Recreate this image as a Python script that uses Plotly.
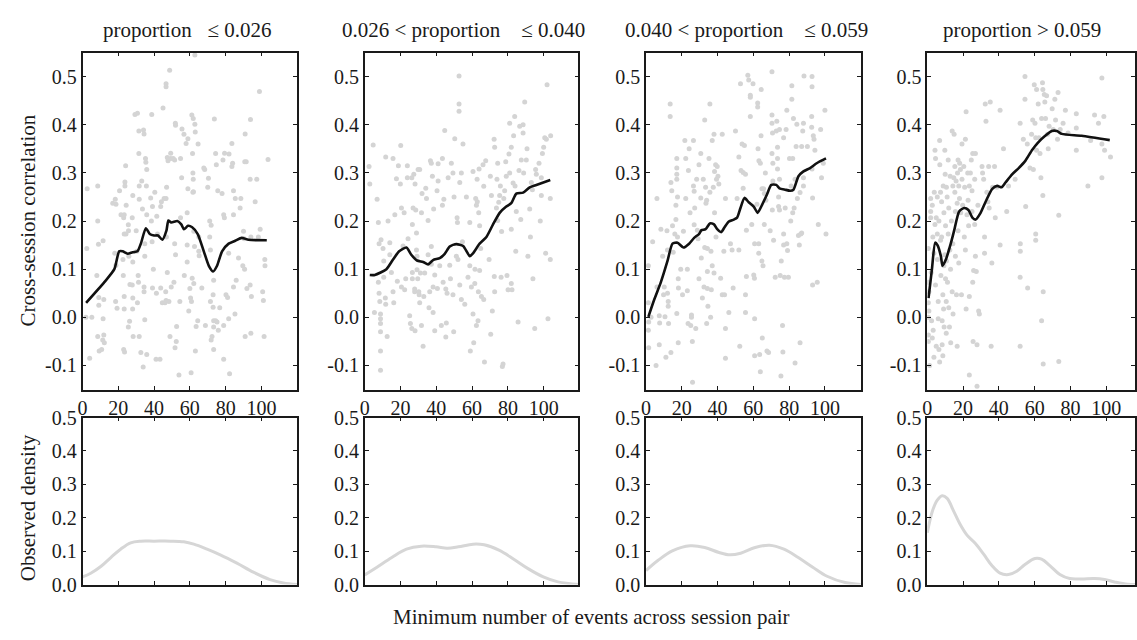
import plotly.graph_objects as go

W, H = 1137, 640

# ---- panel headings -------------------------------------------------------
panel_titles = [
    "proportion\u00a0\u00a0 \u2264 0.026",
    "0.026 < proportion\u00a0\u00a0\u00a0 \u2264 0.040",
    "0.040 < proportion\u00a0\u00a0\u00a0 \u2264 0.059",
    "proportion > 0.059",
]

# ---- scatter: (min events, cross-session correlation) per bin -------------
pts_bin1 = [
    (2.6,0.267),(2.4,0.143),(1.9,0.0),(4.0,-0.085),(5.2,0.0),(8.5,0.273),(8.5,0.2),(8.9,0.152),(8.0,0.087),(9.1,0.041),(9.1,0.025),(8.5,-0.04),(9.3,-0.07),(10.7,-0.067),(11.3,-0.047),
    (11.5,0.159),(11.9,0.037),(11.5,-0.003),(12.2,-0.053),(11.9,-0.037),(16.9,0.237),(18.3,0.245),(18.7,0.235),(18.0,0.133),(18.7,0.108),(18.5,0.033),(19.3,0.019),
    (20.7,0.263),(21.5,0.213),(23.0,0.207),(23.3,0.213),(23.7,0.281),(23.7,0.273),(24.1,0.315),(24.4,0.233),(23.3,0.173),(24.3,0.173),(22.6,0.12),(22.8,0.087),(23.3,0.043),(23.3,0.017),(23.0,-0.067),(23.5,-0.072),(25.6,0.192),(25.7,0.18),(25.9,0.127),(26.5,0.068),(26.3,-0.008),(25.6,-0.02),(28.1,0.253),(27.8,0.207),(28.1,0.115),(27.8,0.067),(28.1,0.04),(28.0,0.017),(28.3,-0.04),(29.3,0.421),(30.7,0.424),
    (30.0,0.18),(30.4,0.137),(31.5,0.387),(31.5,0.34),(31.7,0.273),(31.7,0.245),(33.1,0.283),(33.5,0.225),(31.1,0.087),(31.3,0.073),(30.7,0.03),(31.7,-0.04),(32.6,-0.073),(33.9,-0.103),(34.4,0.381),(34.1,0.389),(35.2,0.33),(35.4,0.322),(35.9,0.307),(35.7,0.273),(35.9,0.213),(34.8,0.153),(34.8,0.127),(34.4,0.063),(34.4,0.053),(34.8,-0.005),(35.9,-0.077),(38.1,0.248),(38.7,0.421),(39.1,0.23),(38.5,0.2),(38.9,0.157),(39.6,0.1),(39.1,0.061),
    (40.4,0.26),(41.5,0.21),(41.9,0.173),(41.3,0.05),(41.1,-0.087),(43.3,-0.087),(43.7,0.23),(44.1,0.24),(44.6,0.03),(43.7,0.061),(45.0,0.435),(45.6,0.247),(46.1,0.03),(46.5,0.053),(47.4,0.332),(47.8,0.325),(47.0,0.27),(46.7,0.247),(46.9,0.167),(47.4,0.093),(46.7,0.035),(48.3,0.033),(48.7,0.513),(46.7,0.485),(46.7,0.479),(49.3,0.341),(49.3,0.33),(49.6,0.063),(48.9,-0.04),
    (50.7,0.33),(51.5,0.327),(51.9,0.403),(52.0,0.399),(51.5,0.153),(51.1,0.073),(52.0,0.13),(52.6,-0.019),(52.4,-0.05),(51.7,-0.063),(53.9,-0.12),(54.8,0.33),(55.6,0.391),(55.4,0.29),(54.8,0.207),(54.4,0.033),(56.7,0.38),(56.9,0.087),(57.9,0.361),(58.9,0.371),(58.9,0.267),(58.5,0.217),(58.5,0.15),(58.5,0.115),(59.4,0.013),(60.0,0.06),
    (60.7,-0.115),(60.4,0.04),(60.9,0.033),(61.1,0.42),(61.9,0.413),(61.5,0.34),(61.7,0.3),(61.9,0.287),(62.0,0.261),(61.7,0.26),(62.2,0.179),(62.6,0.147),(61.3,0.081),(62.2,0.07),(62.8,0.545),(62.8,0.401),(63.0,0.385),(63.1,-0.07),(63.5,-0.019),(64.6,0.36),(65.0,0.167),(65.0,0.137),(65.2,0.128),(64.4,-0.007),(66.7,0.061),(67.8,0.31),(68.3,0.307),(68.7,-0.017),(70.4,0.289),(70.0,0.27),(71.1,0.2),(71.9,0.191),
    (71.1,0.167),(71.5,0.14),(72.4,-0.04),(71.9,-0.047),(71.5,0.033),(73.0,0.047),(73.0,0.021),(73.3,-0.007),(73.7,0.412),(73.3,0.077),(73.3,-0.067),(74.4,0.34),(74.8,0.317),(75.6,0.263),(73.3,-0.02),(75.2,-0.01),(75.9,-0.027),(74.4,-0.007),(76.7,0.02),(78.0,0.257),(78.5,0.327),(78.9,0.213),(79.3,0.207),(79.4,0.341),(78.9,-0.017),(78.9,-0.087),(80.2,0.047),
    (81.1,0.041),(81.7,0.133),(81.7,-0.003),(81.9,0.339),(83.5,0.361),(83.5,0.313),(83.9,0.32),(82.2,-0.117),(84.4,0.263),(84.4,0.213),(85.4,0.247),(84.4,0.063),(85.9,0.077),(85.2,0.007),(87.2,0.123),(88.1,0.227),(88.5,0.247),
    (90.0,0.179),(90.4,0.163),(90.7,0.323),(91.5,0.323),(90.9,0.381),(89.6,0.107),(90.6,0.1),(91.9,0.06),(90.9,-0.04),(93.9,0.411),(93.7,0.287),(94.1,0.167),(93.7,0.067),(94.4,0.043),(94.1,-0.033),(96.5,0.24),(97.4,0.287),(98.9,0.469),(98.3,0.167),(99.3,0.183),(100.7,0.053),(101.1,0.035),(101.5,-0.04),(101.9,0.12),(102.0,0.107),(103.7,0.328),
]

pts_bin2 = [
    (2.4,0.313),(2.8,0.277),(4.7,0.358),(5.4,0.01),(6.9,0.245),(7.6,0.197),(7.6,0.073),(8.0,0.05),(8.4,0.033),(8.8,0.007),(8.8,-0.003),(8.8,-0.013),(8.8,-0.03),(8.8,-0.07),(8.8,-0.11),(8.0,0.153),(9.1,0.161),
    (10.2,0.143),(10.6,0.117),(10.6,0.083),(11.5,0.04),(11.7,0.027),(12.5,-0.04),(11.7,0.333),(13.0,0.2),(14.0,0.155),(14.0,0.13),(14.9,0.093),(15.8,0.33),(15.8,0.053),(16.2,0.03),(16.8,0.213),(17.7,0.288),(18.2,0.075),(18.8,0.315),
    (20.1,0.357),(19.9,0.277),(20.5,0.227),(20.5,0.063),(21.4,0.148),(22.0,0.217),(22.3,0.057),(22.9,0.08),(23.8,0.315),(23.8,0.29),(24.2,0.163),(25.1,0.003),(25.5,-0.013),(26.3,0.29),(26.3,-0.023),(26.6,0.093),(26.6,0.08),(26.6,0.193),(27.0,0.227),(27.4,0.297),(27.9,0.059),(27.9,0.053),(28.1,-0.028),(28.1,0.277),(28.5,0.223),(28.9,0.175),(28.9,0.14),(29.2,0.127),(29.2,0.099),(29.6,0.08),(29.8,0.307),(30.2,0.053),
    (30.4,0.047),(30.7,0.307),(31.1,0.092),(30.7,0.03),(31.7,0.217),(31.7,-0.017),(32.0,0.257),(32.6,-0.06),(33.0,0.043),(33.5,0.092),(34.1,0.268),(34.5,0.247),(35.4,0.201),(35.4,0.13),(35.9,0.02),(36.3,0.053),(36.7,0.325),(37.2,0.11),(37.2,0.32),(37.2,0.147),(37.8,0.293),(38.2,0.063),(38.2,0.01),(38.5,0.225),(39.1,-0.028),(39.1,0.088),
    (40.4,0.263),(40.6,0.06),(41.0,0.283),(41.0,0.319),(41.9,0.107),(42.8,-0.017),(43.4,0.33),(43.4,0.233),(43.8,0.073),(44.2,0.245),(44.7,0.388),(45.3,0.059),(45.6,-0.012),(46.0,0.05),(45.3,-0.041),(46.6,0.29),(47.5,0.108),(47.9,0.08),(48.4,0.32),(49.3,0.047),(49.3,0.3),(49.7,-0.03),(49.9,0.25),(50.3,0.371),
    (51.2,0.127),(51.6,0.207),(51.8,0.197),(52.1,0.12),(52.7,0.501),(52.7,0.443),(52.7,0.428),(53.1,0.28),(53.1,0.067),(54.0,0.3),(54.0,0.037),(54.9,0.36),(54.6,0.157),(55.9,0.027),(56.8,0.25),(57.7,0.083),(58.7,0.197),(58.7,0.107),(59.0,-0.07),(59.6,0.063),
    (60.5,0.303),(60.5,0.007),(60.9,-0.053),(61.5,0.07),(61.6,0.1),(62.0,0.247),(62.4,0.233),(62.4,-0.017),(62.8,0.287),(62.9,0.24),(63.3,-0.007),(63.5,0.053),(63.9,0.308),(63.7,0.217),(64.2,0.19),(64.2,0.097),(64.8,0.143),(65.2,0.043),(66.1,0.317),(66.5,0.272),(66.5,0.037),(66.9,-0.093),(67.6,0.325),
    (69.5,0.12),(70.2,0.293),(70.4,-0.035),(70.8,0.253),(71.3,0.013),(72.3,0.37),(72.6,0.353),(72.4,0.085),(72.6,0.053),(73.6,0.227),(73.9,0.287),(74.3,0.32),(74.3,0.201),(74.9,0.239),(75.4,0.253),(75.8,0.273),(76.2,0.083),(76.5,0.178),(76.9,-0.102),(77.3,-0.097),(77.7,0.247),(78.2,0.263),(78.8,0.323),(79.1,0.293),(79.5,0.087),(80.1,0.057),
    (80.6,0.339),(81.0,0.3),(81.0,0.403),(81.9,0.353),(81.9,0.183),(81.9,0.07),(82.3,0.057),(82.9,0.279),(83.2,0.377),(83.8,0.417),(84.0,0.273),(84.4,0.137),(84.7,0.22),(85.7,-0.01),(86.2,0.305),(86.6,0.397),(87.2,0.203),(87.5,0.327),(88.5,0.4),(88.5,0.383),(88.8,0.3),(89.4,0.447),
    (90.3,0.327),(90.7,0.35),(91.2,0.127),(92.2,0.225),(92.6,0.167),(93.1,0.28),(93.7,0.265),(94.0,0.08),(95.0,-0.023),(95.5,0.307),(95.9,0.297),(97.4,0.32),(98.1,0.2),(98.7,0.29),(98.7,0.253),(99.3,0.34),(100.0,0.353),(100.6,0.373),(101.5,0.37),(101.1,0.133),(101.9,0.483),(102.4,-0.003),(103.7,0.247),(103.7,0.12),(103.9,0.377),
]

pts_bin3 = [
    (1.3,0.107),(1.3,0.03),(1.3,-0.027),(1.5,-0.01),(1.5,-0.063),(2.8,0.0),(3.7,0.157),(5.6,-0.1),(6.1,0.247),(6.1,0.063),(7.4,0.003),(7.6,-0.012),(7.4,-0.057),(8.3,0.183),(9.3,0.127),(10.2,0.063),(9.8,0.047),(10.6,0.001),
    (11.1,-0.083),(11.7,0.18),(12.0,0.14),(12.0,0.05),(12.4,0.033),(12.4,0.023),(12.6,-0.013),(13.5,0.443),(13.5,0.417),(13.9,0.28),(14.4,0.263),(14.8,0.19),(15.2,0.135),(13.9,-0.073),(16.1,0.173),(16.7,0.233),(16.7,0.203),(17.2,0.33),(17.2,0.31),(17.2,0.297),(17.2,0.287),(17.6,0.25),(17.6,0.167),(18.0,0.08),(18.1,0.061),(17.2,0.008),(18.0,-0.053),
    (19.4,0.1),(20.4,0.047),(20.9,0.179),(21.7,0.367),(22.2,0.33),(22.2,0.247),(23.1,0.1),(23.1,0.055),(23.5,-0.013),(23.7,0.305),(24.1,0.35),(24.6,0.217),(25.0,-0.017),(25.4,0.005),(25.4,0.0),(25.9,-0.05),(26.5,0.367),(26.5,0.273),(26.9,0.262),(26.9,0.192),(27.2,0.227),(27.8,-0.023),(28.3,0.287),(28.7,0.181),(29.1,0.163),(29.6,0.317),(29.6,0.08),(26.0,-0.135),
    (30.6,0.34),(30.6,0.248),(30.9,0.123),(31.5,0.04),(32.0,0.287),(32.4,0.063),(32.8,0.145),(32.8,0.41),(33.3,0.27),(33.5,0.237),(33.9,0.243),(33.9,-0.013),(34.3,0.095),(34.3,0.143),(34.3,0.06),(34.6,0.023),(35.2,0.33),(35.7,0.26),(35.7,0.443),(36.1,0.0),(36.3,0.137),(36.5,0.057),(37.0,0.367),(37.0,0.107),(37.6,0.27),(38.0,0.38),(38.0,0.092),(38.3,0.303),(38.3,0.217),
    (38.9,0.317),(39.1,0.167),(39.4,0.287),(39.8,0.313),(40.2,0.293),(40.7,0.277),(41.7,0.081),(42.6,0.38),(42.6,0.047),(43.5,0.137),(43.9,0.047),(44.4,0.247),(44.4,-0.085),(44.4,-0.023),(46.3,0.01),(47.2,0.153),(48.1,0.14),(48.7,0.061),(50.0,0.387),
    (50.9,0.247),(51.9,0.333),(51.9,0.14),(52.4,-0.06),(52.8,0.485),(53.1,0.305),(53.7,0.36),(54.3,0.301),(54.3,0.268),(55.0,0.357),(55.6,0.047),(55.6,0.01),(55.6,0.297),(56.1,0.181),(56.1,0.085),(56.9,0.503),(57.4,0.493),(58.3,0.461),(58.3,0.457),(58.3,0.417),(59.1,0.193),(59.8,0.485),(60.2,0.088),(60.6,0.081),(60.7,-0.003),(60.7,0.153),(60.7,-0.08),
    (62.0,0.235),(62.4,0.445),(62.4,0.437),(62.6,0.35),(63.0,0.153),(63.0,0.133),(63.1,0.325),(63.5,-0.077),(63.9,-0.113),(63.9,0.32),(64.3,0.377),(64.4,0.473),(64.8,0.267),(64.8,0.117),(65.0,-0.043),(65.4,0.107),(65.7,0.267),(66.1,0.257),(66.1,0.193),(66.7,0.3),(67.0,0.243),(67.6,-0.07),(68.5,-0.073),(69.4,0.18),
    (70.4,0.51),(70.4,0.42),(70.4,0.403),(70.4,0.34),(70.7,0.383),(70.9,0.32),(70.9,0.283),(70.6,0.223),(71.3,0.16),(72.2,0.083),(72.8,0.387),(73.1,0.407),(73.5,0.353),(73.5,0.33),(73.5,0.308),(74.1,0.25),(74.1,0.23),(74.6,0.39),(74.6,0.223),(74.6,0.287),(75.0,0.087),(75.6,0.117),(75.4,-0.122),(76.3,-0.017),(76.5,-0.072),(76.9,0.373),(76.9,0.173),(76.9,0.15),(77.4,0.083),(77.8,0.227),(78.3,0.39),(78.7,0.43),(78.7,0.153),(79.1,0.139),
    (79.6,0.083),(80.2,0.33),(80.9,0.2),(81.1,0.273),(81.5,0.481),(81.5,0.453),(82.0,0.33),(82.0,0.217),(82.4,0.413),(82.8,0.227),(83.3,0.287),(83.3,-0.095),(83.9,0.355),(84.3,0.401),(84.6,0.247),(85.2,0.17),(85.7,0.15),(86.1,0.259),(86.1,-0.053),(86.5,0.173),(87.0,0.355),(87.0,0.175),(87.6,0.387),(88.0,0.403),(88.0,0.29),(88.0,0.273),
    (88.3,0.501),(90.2,0.355),(92.6,0.417),(92.6,0.395),(92.8,0.308),(93.1,0.248),(92.8,0.5),(92.8,0.479),(93.1,0.067),(93.5,0.377),(93.9,0.37),(94.4,0.347),(95.7,0.073),(96.3,0.193),(97.6,0.39),(98.1,0.29),(99.1,0.32),(100.0,0.43),(100.6,0.173),
]

pts_bin4 = [
    (0.6,0.143),(0.6,0.0),(0.6,-0.037),(0.6,-0.05),(0.6,0.073),(0.6,0.03),(0.9,0.053),(0.9,0.013),(1.3,-0.1),(1.9,0.247),(1.9,0.22),(1.9,0.207),(2.2,0.093),(2.4,-0.007),(2.8,0.233),(2.8,-0.043),(3.1,0.167),(3.3,-0.027),(3.7,0.133),(3.7,-0.083),(3.9,0.26),(4.3,0.193),(4.3,0.347),(4.6,0.33),(4.6,0.067),(5.0,-0.06),(5.0,0.207),
    (5.6,0.25),(5.6,0.173),(5.7,0.12),(6.1,0.033),(6.1,-0.003),(6.5,0.2),(6.5,-0.067),(6.9,-0.093),(6.9,0.367),(7.0,0.317),(7.4,0.16),(7.4,0.26),(7.6,0.087),(8.0,0.167),(8.0,0.24),(8.3,-0.057),(8.3,-0.007),(8.7,0.047),(8.7,-0.08),(8.9,0.273),(9.1,0.017),(9.3,0.217),(9.3,0.107),(9.4,-0.02),(9.8,0.347),(9.8,0.13),(10.0,0.297),
    (10.2,0.19),(10.2,0.08),(10.6,0.033),(10.6,-0.033),(10.7,0.27),(10.7,0.117),(11.1,0.25),(11.3,0.073),(11.7,0.327),(11.7,0.173),(12.0,0.02),(12.0,0.227),(12.4,-0.02),(12.6,0.14),(12.8,0.293),(13.0,0.1),(13.1,-0.053),(13.5,0.2),(13.9,0.053),(13.9,0.387),(14.3,0.273),(14.3,0.153),(14.4,0.007),
    (14.8,0.29),(15.0,0.38),(15.4,0.26),(15.4,0.313),(15.7,0.22),(15.7,0.127),(16.1,0.283),(16.3,0.047),(16.7,0.237),(16.7,-0.06),(16.9,0.3),(17.2,0.327),(17.2,0.18),(17.6,0.273),(17.6,0.113),(18.0,0.247),(18.1,0.32),(18.5,0.307),(18.7,0.217),(19.1,0.047),(19.4,0.36),(19.4,0.287),(19.8,0.233),
    (20.4,0.313),(20.7,0.167),(20.9,0.27),(21.3,0.37),(21.3,0.14),(21.7,0.427),(21.7,0.017),(22.2,0.213),(22.6,0.3),(22.8,0.243),(23.1,0.19),(23.5,0.273),(23.5,0.043),(24.1,0.3),(24.6,0.327),(25.0,0.263),(25.4,0.34),(25.4,0.073),(25.6,-0.05),(25.9,0.097),(26.5,0.287),(26.5,0.193),(26.9,0.34),(27.4,0.095),(27.8,-0.057),(28.3,0.233),(28.7,0.013),(29.1,0.007),(23.5,-0.12),(27.8,-0.143),(26.9,0.127),(25.0,0.22),
    (30.6,0.313),(30.9,0.3),(31.5,0.287),(32.0,0.167),(32.0,0.133),(32.4,0.443),(32.8,0.407),(33.3,0.26),(33.9,0.24),(34.3,0.313),(34.6,0.227),(35.2,0.447),(35.7,-0.06),(36.1,0.113),(36.5,0.27),(37.6,0.313),(38.0,0.207),(38.9,0.27),
    (40.7,0.43),(40.7,0.15),(42.6,0.35),(44.4,0.22),(45.4,0.273),(49.1,0.287),(51.9,0.403),(51.9,0.083),(51.9,-0.06),(52.0,0.153),(52.0,0.137),(53.7,0.37),(54.6,0.5),(54.6,0.453),(55.0,0.23),(55.9,0.36),(56.1,0.061),
    (57.4,0.31),(58.3,0.38),(58.9,0.41),(59.3,0.307),(59.8,0.483),(60.2,0.403),(60.6,0.373),(60.6,0.173),(60.6,0.16),(61.1,0.473),(61.1,0.347),(62.0,0.443),(62.4,0.373),(63.0,0.34),(63.5,0.29),(63.9,0.413),(64.4,0.487),(64.6,0.473),(64.6,0.253),(64.8,0.053),(63.9,-0.007),(64.8,-0.097),(65.4,0.463),(65.7,0.447),(66.1,0.413),(66.7,0.46),(67.2,0.38),(67.6,0.35),(68.1,0.397),
    (69.8,0.433),(70.4,0.39),(71.3,0.453),(71.7,0.41),(72.8,0.37),(73.1,0.467),(73.5,0.212),(73.5,-0.092),(74.3,0.39),(75.9,0.403),(77.2,0.43),(78.7,0.383),(83.3,0.423),(83.3,0.393),(83.3,0.347),(89.8,0.273),(91.3,0.367),(93.5,0.42),(95.7,0.403),(97.6,0.497),(97.6,0.36),(97.6,0.29),(98.7,0.417),(99.1,0.347),(102.4,0.333),
]

# ---- smoothed trend per bin ----------------------------------------------
trend_x1 = [2, 12.2, 17.8, 20.5, 22.4, 25.2, 28, 30.7, 32.6, 35.4, 37.6, 40, 42.2, 44.6, 46.9, 48, 49.6, 53, 55.2, 56.7, 59, 61.3, 64.4, 67.8, 70.6, 73, 75.2, 78, 81.7, 85.4, 89, 92.8, 103]
trend_y1 = [0.03, 0.073, 0.1, 0.137, 0.137, 0.132, 0.135, 0.137, 0.153, 0.185, 0.173, 0.17, 0.17, 0.161, 0.18, 0.201, 0.197, 0.2, 0.193, 0.183, 0.19, 0.187, 0.173, 0.137, 0.107, 0.095, 0.107, 0.137, 0.153, 0.159, 0.165, 0.161, 0.16]

trend_x2 = [2.8, 5.6, 12.1, 15.8, 19.2, 23.3, 26, 29.2, 32.6, 35.4, 38.2, 41.9, 44.7, 47.5, 51.2, 55, 58.7, 60.5, 64.2, 68, 71.7, 75.4, 79.1, 81.9, 84.7, 88.5, 92.2, 95.9, 103.7]
trend_y2 = [0.088, 0.088, 0.1, 0.12, 0.137, 0.145, 0.13, 0.118, 0.115, 0.11, 0.119, 0.123, 0.132, 0.147, 0.152, 0.148, 0.127, 0.133, 0.153, 0.167, 0.193, 0.217, 0.23, 0.237, 0.257, 0.259, 0.27, 0.275, 0.285]

trend_x3 = [1.3, 4.6, 8.3, 12, 14.8, 17.6, 20.9, 24.1, 26.9, 29.6, 31, 33.3, 35.7, 38, 39.8, 42, 43.9, 46.3, 49.1, 50.9, 52.8, 55, 57.4, 60.2, 62.4, 64.8, 67.6, 70, 72.8, 74.6, 77.8, 80.6, 82.4, 85.2, 88, 91.7, 95.4, 100.6]
trend_y3 = [0.001, 0.037, 0.073, 0.117, 0.153, 0.155, 0.145, 0.153, 0.165, 0.173, 0.181, 0.183, 0.195, 0.193, 0.183, 0.177, 0.187, 0.199, 0.203, 0.207, 0.227, 0.248, 0.239, 0.23, 0.217, 0.233, 0.255, 0.275, 0.275, 0.268, 0.265, 0.263, 0.265, 0.293, 0.303, 0.31, 0.32, 0.33]

trend_x4 = [0.7, 2.6, 4.4, 5.7, 7.6, 8.5, 10.4, 13.1, 15, 17.8, 20.6, 23, 25.2, 27, 29.8, 32.6, 36.3, 39.1, 41.5, 43.7, 47.4, 51.1, 54.8, 58.5, 61.9, 65.9, 69.6, 72.4, 75.2, 86.3, 102]
trend_y4 = [0.04, 0.1, 0.155, 0.15, 0.127, 0.107, 0.12, 0.153, 0.18, 0.22, 0.227, 0.223, 0.207, 0.203, 0.217, 0.24, 0.267, 0.273, 0.27, 0.28, 0.297, 0.31, 0.325, 0.347, 0.363, 0.377, 0.387, 0.387, 0.381, 0.377, 0.368]

# ---- observed density of min events per bin -------------------------------
dens_x1 = [0, 4.6, 10.2, 15.8, 21.3, 26.9, 32.5, 39.9, 49.2, 56.6, 62.2, 69.6, 77, 86.3, 95.5, 104.8, 112.2, 120]
dens_y1 = [0.023, 0.034, 0.054, 0.081, 0.106, 0.125, 0.13, 0.13, 0.13, 0.128, 0.121, 0.106, 0.089, 0.064, 0.037, 0.015, 0.005, 0.0]

dens_x2 = [0, 6.8, 15.1, 23.3, 31.6, 39.9, 46.1, 52.3, 60.5, 66.7, 75, 83.3, 91.5, 99.8, 108, 120]
dens_y2 = [0.029, 0.052, 0.081, 0.106, 0.115, 0.113, 0.109, 0.113, 0.121, 0.119, 0.103, 0.076, 0.047, 0.023, 0.008, 0.0]

dens_x3 = [0, 6.6, 14.7, 24.7, 32.8, 40.8, 46.9, 52.9, 61, 69, 77.1, 85.1, 93.2, 101.2, 111.3, 120]
dens_y3 = [0.042, 0.072, 0.101, 0.116, 0.111, 0.096, 0.089, 0.094, 0.111, 0.118, 0.106, 0.081, 0.052, 0.025, 0.006, 0.0]

dens_x4 = [0, 2.8, 5.6, 8.3, 11.1, 14.8, 18.5, 22.2, 26.9, 31.5, 36.1, 40.7, 45.4, 50, 54.6, 60.2, 63.9, 68.5, 74.1, 79.6, 86.1, 93.5, 99.1, 104.6, 112, 120]
dens_y4 = [0.155, 0.219, 0.253, 0.266, 0.258, 0.219, 0.179, 0.148, 0.123, 0.091, 0.057, 0.034, 0.03, 0.04, 0.06, 0.078, 0.076, 0.057, 0.03, 0.018, 0.017, 0.018, 0.015, 0.008, 0.001, 0.0]

corr_ticks = [-0.1, 0.0, 0.1, 0.2, 0.3, 0.4, 0.5]
corr_labels = ["-0.1", "0.0", "0.1", "0.2", "0.3", "0.4", "0.5"]
dens_ticks = [0.0, 0.1, 0.2, 0.3, 0.4, 0.5]
dens_labels = ["0.0", "0.1", "0.2", "0.3", "0.4", "0.5"]
event_ticks = [0, 20, 40, 60, 80, 100]
event_labels = ["0", "20", "40", "60", "80", "100"]

scatter_sets = [pts_bin1, pts_bin2, pts_bin3, pts_bin4]
trends = [(trend_x1, trend_y1), (trend_x2, trend_y2), (trend_x3, trend_y3), (trend_x4, trend_y4)]
densities = [(dens_x1, dens_y1), (dens_x2, dens_y2), (dens_x3, dens_y3), (dens_x4, dens_y4)]

# ---- layout geometry (pixels) ---------------------------------------------
FONT = "Liberation Serif, Times New Roman, serif"
INK = "#1a1a1a"
PX_PER_UNIT = 1.8
col_left = [78, 362, 645, 928]
col_width = [216, 215, 216, 209]
top_px = (43, 392)
bot_px = (421, 594)
title_cx = [183, 461, 746, 1023]
title_cy = 20
xlabel_cy = 628


def xdom(i):
    return [col_left[i] / W, min(1.0, (col_left[i] + col_width[i]) / W)]


def ydom(px):
    return [1 - px[1] / H, 1 - px[0] / H]


fig = go.Figure()
layout = dict(
    width=W, height=H,
    margin=dict(l=0, r=0, t=0, b=0),
    paper_bgcolor="white", plot_bgcolor="white",
    showlegend=False,
    font=dict(family=FONT, size=20, color=INK),
)

axis_common = dict(
    showgrid=False, zeroline=False, showline=True, linecolor=INK, linewidth=1.5,
    mirror="allticks", ticks="inside", ticklen=4, tickwidth=1, tickcolor=INK,
    tickfont=dict(family=FONT, size=20, color=INK),
)

for i in range(4):
    xr_max = col_width[i] / PX_PER_UNIT
    top_n = i + 1
    bot_n = i + 5
    tx, ty = f"x{top_n}", f"y{top_n}"
    bx, by = f"x{bot_n}", f"y{bot_n}"

    layout[f"xaxis{top_n}"] = dict(axis_common, domain=xdom(i), range=[0, xr_max], anchor=ty,
                                   tickvals=event_ticks, ticktext=event_labels)
    layout[f"yaxis{top_n}"] = dict(axis_common, domain=ydom(top_px), range=[-0.15, 0.55], anchor=tx,
                                   tickvals=corr_ticks, ticktext=corr_labels)
    layout[f"xaxis{bot_n}"] = dict(axis_common, domain=xdom(i), range=[0, xr_max], anchor=by,
                                   tickvals=event_ticks[1:], showticklabels=False)
    layout[f"yaxis{bot_n}"] = dict(axis_common, domain=ydom(bot_px), range=[0, 0.5], anchor=bx,
                                   tickvals=dens_ticks, ticktext=dens_labels)

    px_, py_ = zip(*scatter_sets[i])
    fig.add_trace(go.Scatter(x=list(px_), y=list(py_), mode="markers", xaxis=tx, yaxis=ty,
                             marker=dict(size=5, color="#d4d4d4"), hoverinfo="skip"))
    fig.add_trace(go.Scatter(x=trends[i][0], y=trends[i][1], mode="lines", xaxis=tx, yaxis=ty,
                             line=dict(color="#111111", width=2.6, shape="spline", smoothing=0.6)))
    fig.add_trace(go.Scatter(x=densities[i][0], y=densities[i][1], mode="lines", xaxis=bx, yaxis=by,
                             line=dict(color="#d6d6d6", width=3, shape="spline", smoothing=1.0)))

annotations = []
for i, t in enumerate(panel_titles):
    annotations.append(dict(text=t, x=title_cx[i] / W, y=1 - title_cy / H, xref="paper", yref="paper",
                            xanchor="center", yanchor="middle", showarrow=False,
                            font=dict(family=FONT, size=21, color=INK)))
annotations.append(dict(text="Cross-session correlation", x=23 / W, y=1 - 217 / H, xref="paper", yref="paper",
                        textangle=-90, xanchor="center", yanchor="middle", showarrow=False,
                        font=dict(family=FONT, size=21, color=INK)))
annotations.append(dict(text="Observed density", x=23 / W, y=1 - 514 / H, xref="paper", yref="paper",
                        textangle=-90, xanchor="center", yanchor="middle", showarrow=False,
                        font=dict(family=FONT, size=21, color=INK)))
annotations.append(dict(text="Minimum number of events across session pair", x=590 / W, y=1 - xlabel_cy / H,
                        xref="paper", yref="paper", xanchor="center", yanchor="middle", showarrow=False,
                        font=dict(family=FONT, size=21, color=INK)))
layout["annotations"] = annotations

fig.update_layout(**layout)
fig.write_html("out.html")
